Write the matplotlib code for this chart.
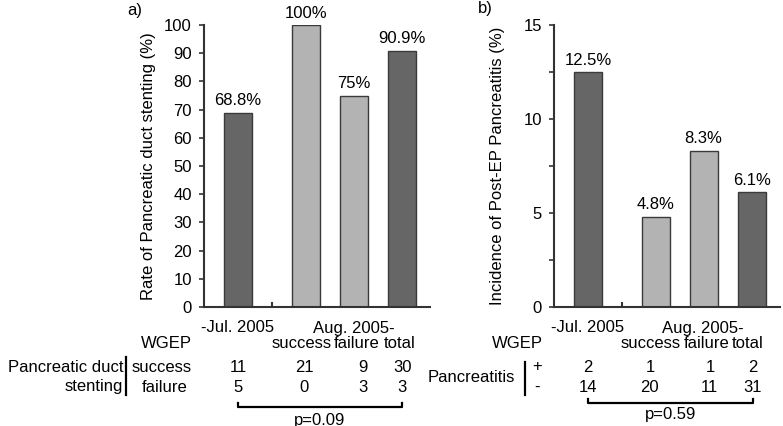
import matplotlib
matplotlib.use("Agg")
import matplotlib.pyplot as plt
import matplotlib.transforms as mtransforms
from matplotlib.lines import Line2D

# ---------------- data ----------------
periods = ["-Jul. 2005", "Aug. 2005-"]
groups = ["success", "failure", "total"]
stent_rate = [68.8, 100, 75, 90.9]
stent_labels = ["68.8%", "100%", "75%", "90.9%"]
pep_rate = [12.5, 4.8, 8.3, 6.1]
pep_labels = ["12.5%", "4.8%", "8.3%", "6.1%"]
stent_success = [11, 21, 9, 30]
stent_failure = [5, 0, 3, 3]
panc_pos = [2, 1, 1, 2]
panc_neg = [14, 20, 11, 31]
p_left = "p=0.09"
p_right = "p=0.59"

# ---------------- style ----------------
plt.rcParams['font.family'] = ['Liberation Sans', 'DejaVu Sans']
FS = 12
DARK = "#666666"
LIGHT = "#b3b3b3"
EDGE = "#3a3a3a"
bar_colors = [DARK, LIGHT, LIGHT, DARK]
xpos = [0, 1.41, 2.41, 3.41]
W, H = 783, 426

fig = plt.figure(figsize=(W / 100, H / 100), dpi=100)
ax1 = fig.add_axes([204 / W, 119 / H, 226 / W, 282 / H])
ax2 = fig.add_axes([554 / W, 119 / H, 226 / W, 282 / H])


def yf(py):
    return 1 - py / H


def xf(px):
    return px / W


def style_axis(ax, vals, labels, ymax):
    ax.bar(xpos, vals, width=0.58, color=bar_colors, edgecolor=EDGE, linewidth=1.0, zorder=2)
    for x, v, lab in zip(xpos, vals, labels):
        ax.annotate(lab, (x, v), xytext=(0, 12), textcoords='offset pixels',
                    ha='center', va='center', fontsize=FS)
    ax.set_xlim(-0.708, 4.0)
    ax.set_ylim(0, ymax)
    for s in ['top', 'right']:
        ax.spines[s].set_visible(False)
    for s in ['left', 'bottom']:
        ax.spines[s].set_linewidth(1.5)
        ax.spines[s].set_color("#333333")
    ax.set_xticks([0.705])
    ax.set_xticklabels([])
    ax.tick_params(axis='x', direction='in', length=3.8, width=1.5, color="#333333")
    ax.tick_params(axis='y', direction='out', length=3.8, width=1.2, color="#333333",
                   labelsize=FS, pad=5)


# ---------------- panel a ----------------
style_axis(ax1, stent_rate, stent_labels, 100)
ax1.set_yticks(range(0, 101, 10))
ax1.set_ylabel("Rate of Pancreatic duct stenting (%)", fontsize=FS)
ax1.yaxis.set_label_coords(-0.212, 0.5)

# ---------------- panel b ----------------
style_axis(ax2, pep_rate, pep_labels, 15)
ax2.set_yticks([0, 5, 10, 15])
ax2.set_yticks([2.5, 7.5, 12.5], minor=True)
ax2.tick_params(axis='y', which='minor', direction='out', length=3.8, width=1.2, color="#333333")
ax2.set_ylabel("Incidence of Post-EP Pancreatitis (%)", fontsize=FS)
ax2.yaxis.set_label_coords(-0.215, 0.5)

fig.text(xf(135), yf(10), "a)", fontsize=FS, ha='center', va='center')
fig.text(xf(485), yf(9), "b)", fontsize=FS, ha='center', va='center')


def table(ax, wgep_px, group_x, period_x, row_vals, row_x, row_y, bracket_y, p_text, p_x, p_y):
    tr = mtransforms.blended_transform_factory(ax.transData, fig.transFigure)
    ax.text(0, yf(328), periods[0], transform=tr, ha='center', va='center', fontsize=FS)
    ax.text(period_x, yf(328), periods[1], transform=tr, ha='center', va='center', fontsize=FS)
    fig.text(xf(wgep_px), yf(343), "WGEP", ha='right', va='center', fontsize=FS)
    for g, gx in zip(groups, group_x):
        ax.text(gx, yf(343), g, transform=tr, ha='center', va='center', fontsize=FS)
    for vals, xs, yy in zip(row_vals, row_x, row_y):
        for v, x in zip(vals, xs):
            ax.text(x, yf(yy), str(v), transform=tr, ha='center', va='center', fontsize=FS)
    x0, x1 = row_x[0][0], row_x[0][-1]
    ax.add_line(Line2D([x0, x0, x1, x1], [yf(bracket_y - 4), yf(bracket_y), yf(bracket_y), yf(bracket_y - 4)],
                       transform=tr, color='black', linewidth=1.6, clip_on=False))
    ax.text(p_x, yf(p_y), p_text, transform=tr, ha='center', va='center', fontsize=FS)


table(ax1, 192, [1.33, 2.48, 3.375], 2.417,
      [stent_success, stent_failure],
      [[0, 1.375, 2.6, 3.42], [0, 1.375, 2.6, 3.42]],
      [368, 387], 407, p_left, 1.71, 420)
fig.text(xf(123), yf(368), "Pancreatic duct", ha='right', va='center', fontsize=FS)
fig.text(xf(123), yf(387), "stenting", ha='right', va='center', fontsize=FS)
fig.text(xf(192), yf(368), "success", ha='right', va='center', fontsize=FS)
fig.text(xf(188), yf(387), "failure", ha='right', va='center', fontsize=FS)
fig.add_artist(Line2D([xf(126), xf(126)], [yf(357), yf(395)], color='black', linewidth=1.6))

table(ax2, 543, [1.31, 2.47, 3.33], 2.40,
      [panc_pos, panc_neg],
      [[0, 1.29, 2.54, 3.44], [0, 1.29, 2.52, 3.42]],
      [367, 387], 403, p_right, 1.73, 415)
fig.text(xf(515), yf(378), "Pancreatitis", ha='right', va='center', fontsize=FS)
fig.text(xf(537), yf(367), "+", ha='center', va='center', fontsize=FS)
fig.text(xf(537), yf(387), "-", ha='center', va='center', fontsize=FS)
fig.add_artist(Line2D([xf(525), xf(525)], [yf(362), yf(395)], color='black', linewidth=1.6))

fig.savefig("out.png", dpi=100)
